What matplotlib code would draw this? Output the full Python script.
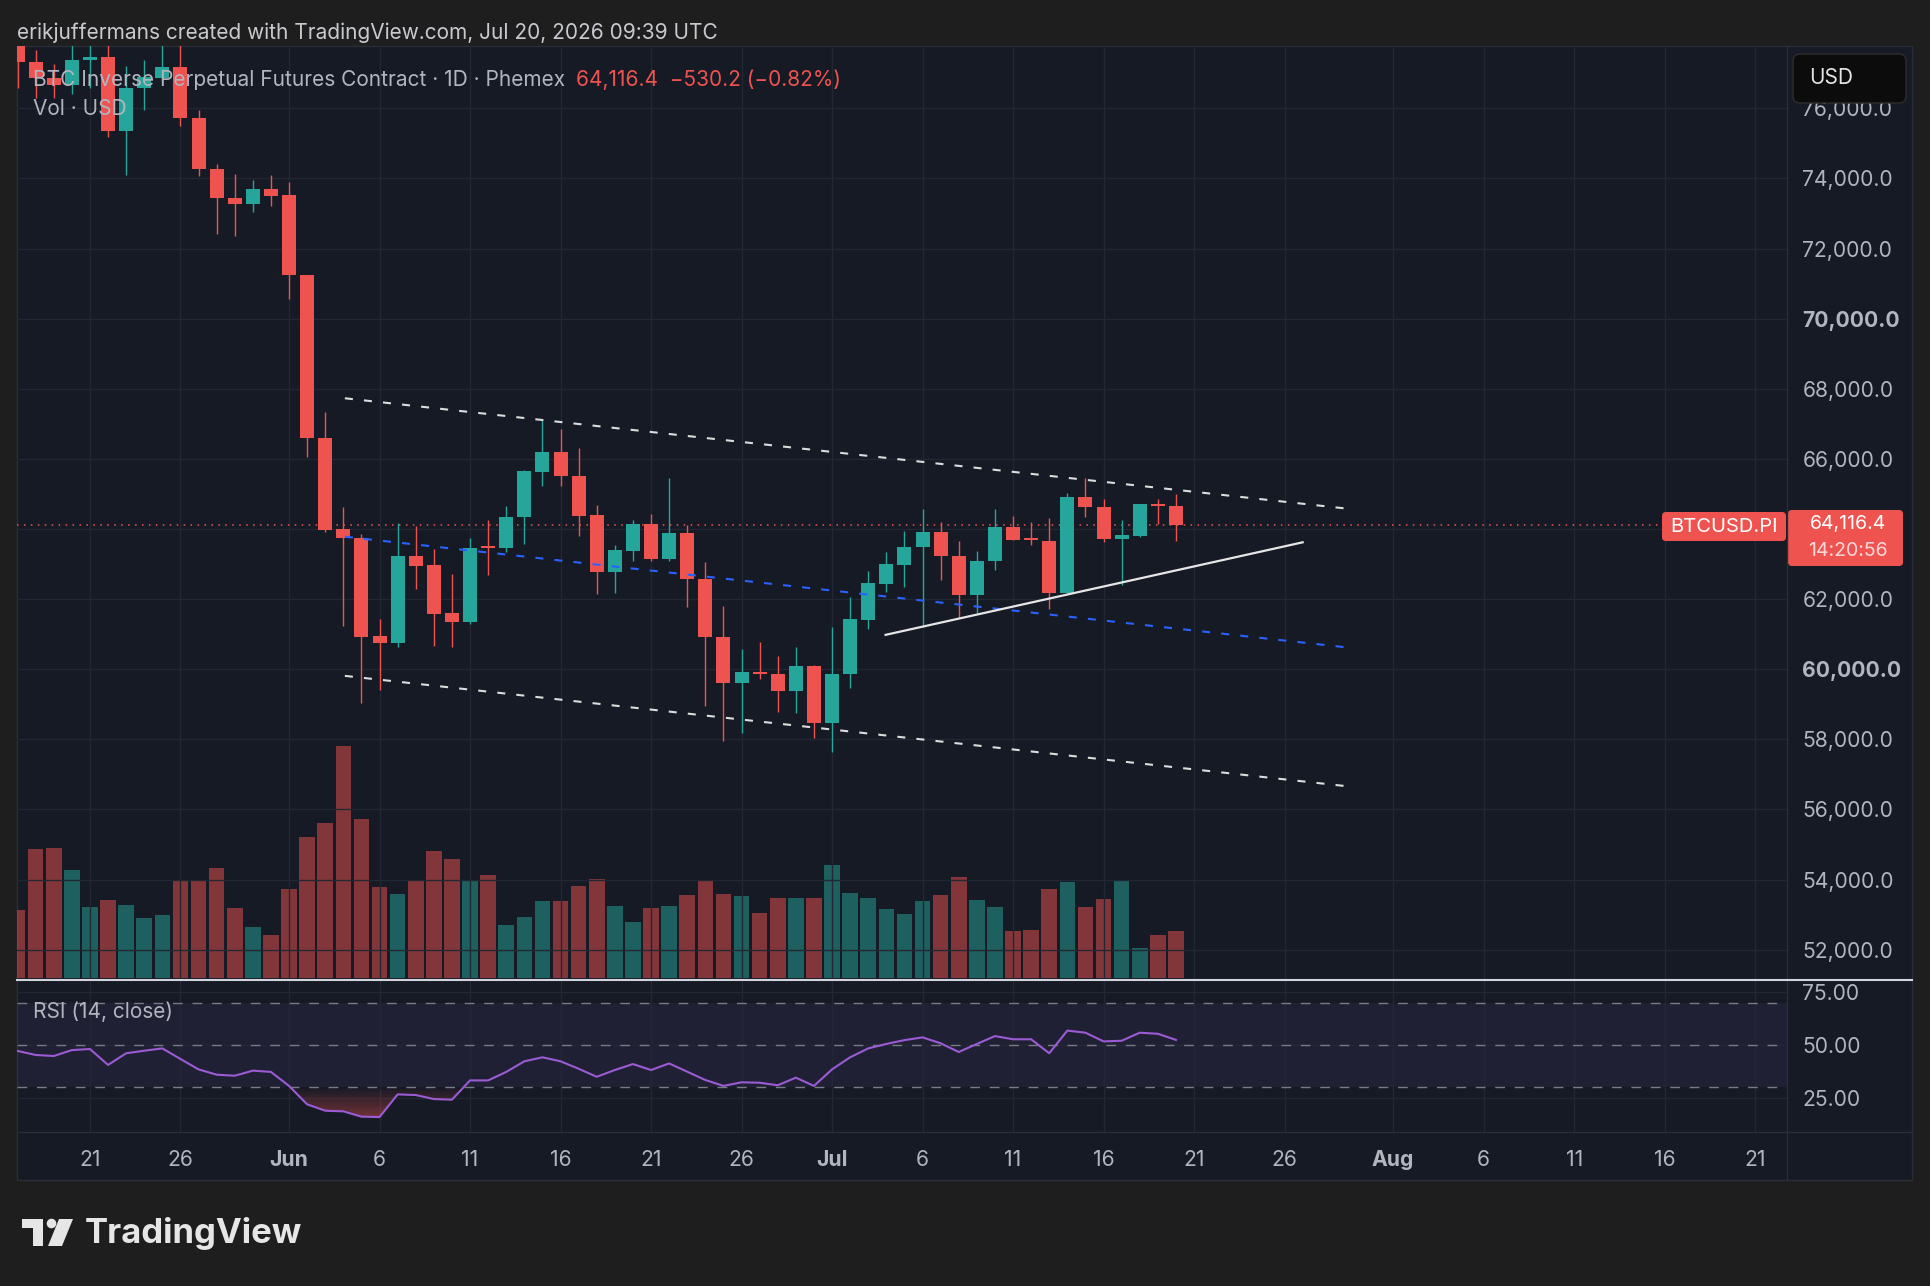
import numpy as np
import pandas as pd
import matplotlib
matplotlib.use("Agg")
import matplotlib.pyplot as plt
import matplotlib.dates as mdates
from matplotlib.patches import Rectangle, FancyBboxPatch, Circle, Polygon
from matplotlib.colors import to_rgb

plt.rcParams['font.family'] = ['Inter', 'DejaVu Sans']
plt.rcParams['lines.scale_dashes'] = False

# ---- data (daily bars, May 17 .. Jul 20) ----
dates = pd.date_range("2026-05-17", "2026-07-20", freq="D")
opens = [78200, 77330, 76860, 76680, 77380, 77470, 75360, 76570, 76870, 77190,
         75730, 74260, 73450, 73280, 73690, 73520, 71260, 66600, 64000, 63750,
         60950, 60760, 63230, 62970, 61600, 61360, 63500, 63450, 64340, 65640,
         66210, 65520, 64400, 62780, 63380, 64140, 63140, 63880, 62570, 60910,
         59600, 59930, 59860, 59390, 60090, 58460, 59860, 61400, 62430, 62980,
         63500, 63920, 63240, 62130, 63100, 64050, 63730, 63670, 62180, 64900,
         64620, 63710, 63800, 64710, 64650]
highs = [78500, 77670, 77260, 78100, 78300, 78000, 77210, 77380, 78200, 78000,
         75950, 74410, 74130, 73970, 74100, 73900, 71260, 67350, 64630, 63860,
         61420, 64160, 64090, 63420, 62730, 63750, 64260, 64660, 65680, 67130,
         66840, 66320, 64680, 63530, 64260, 64430, 65450, 64120, 63070, 61800,
         60570, 60770, 60380, 60640, 60120, 61210, 62050, 62810, 63330, 63930,
         64570, 64190, 63660, 63370, 64570, 64370, 64190, 64310, 65040, 65450,
         64860, 64260, 64720, 64860, 64990]
lows = [76570, 76300, 76300, 76400, 76580, 75180, 74100, 75940, 76750, 75510,
        74070, 72420, 72360, 73030, 73220, 70560, 66040, 63920, 61230, 59030,
        59410, 60640, 62300, 60670, 60620, 61300, 62690, 63340, 63570, 65230,
        65230, 63810, 62140, 62180, 63090, 63100, 63100, 61770, 58950, 57960,
        58170, 59710, 58780, 58760, 58030, 57630, 59460, 61140, 62210, 62340,
        61210, 62550, 61450, 61600, 62830, 63690, 63540, 61710, 62180, 64350,
        63640, 62400, 63780, 64140, 63670]
closes = [77330, 76860, 76670, 77380, 77460, 75360, 76570, 76900, 77190, 75730,
          74260, 73450, 73280, 73690, 73500, 71260, 66590, 63970, 63730, 60930,
          60760, 63230, 62950, 61580, 61360, 63470, 63450, 64350, 65660, 66210,
          65510, 64380, 62780, 63400, 64140, 63140, 63880, 62570, 60910, 59600,
          59930, 59860, 59390, 60090, 58460, 59860, 61420, 62450, 62990, 63500,
          63920, 63240, 62130, 63100, 64050, 63690, 63690, 62180, 64900, 64620,
          63710, 63830, 64710, 64646.6, 64116.4]
volume = [67.7, 129.3, 130.3, 108.3, 70.7, 78.3, 73.3, 60.0, 62.7, 96.7,
          96.7, 110.0, 69.7, 51.3, 43.3, 89.0, 140.7, 155.3, 232.0, 159.3,
          90.7, 83.7, 96.7, 126.7, 118.7, 98.3, 103.0, 53.0, 61.0, 77.3,
          76.7, 91.7, 99.3, 72.3, 55.7, 70.3, 72.3, 82.7, 96.7, 83.7,
          82.0, 65.3, 80.0, 80.0, 80.0, 113.3, 85.3, 80.0, 68.7, 64.3,
          77.3, 82.7, 101.3, 78.3, 71.3, 47.0, 48.3, 89.0, 96.0, 71.3,
          79.3, 96.7, 30.3, 43.3, 47.0]
rsi = [47.2, 45.3, 44.8, 47.6, 48.1, 40.6, 46.1, 47.3, 48.4, 43.4,
       38.5, 36.0, 35.5, 37.9, 37.3, 30.7, 22.0, 19.0, 18.7, 16.2,
       16.0, 26.7, 26.4, 24.5, 24.2, 33.3, 33.3, 37.3, 42.3, 44.2,
       42.3, 38.8, 35.0, 38.2, 41.0, 38.2, 41.3, 37.4, 33.5, 30.7,
       32.4, 32.2, 31.0, 34.6, 30.7, 38.5, 44.2, 48.4, 50.5, 52.3,
       53.6, 50.8, 46.7, 50.5, 54.2, 52.7, 52.7, 46.1, 56.8, 55.8,
       51.7, 52.0, 55.8, 55.3, 52.4]
last_price = 64116.4
change = -530.2

tick_dates = ["2026-05-21", "2026-05-26", "2026-06-01", "2026-06-06", "2026-06-11",
              "2026-06-16", "2026-06-21", "2026-06-26", "2026-07-01", "2026-07-06",
              "2026-07-11", "2026-07-16", "2026-07-21", "2026-07-26", "2026-08-01",
              "2026-08-06", "2026-08-11", "2026-08-16", "2026-08-21"]
tick_labels = ["21", "26", "Jun", "6", "11", "16", "21", "26", "Jul", "6",
               "11", "16", "21", "26", "Aug", "6", "11", "16", "21"]
price_ticks = list(range(52000, 78000, 2000))
hidden_price_tick = 64000   # covered by the last-price label
rsi_ticks = [25, 50, 75]

# drawn trend lines: (time, price) anchors
upper_line = [("2026-06-04 02:00", 67730), ("2026-07-29 15:30", 64570)]
mid_line = [("2026-06-04 02:00", 63780), ("2026-07-29 15:30", 60610)]
lower_line = [("2026-06-04 02:00", 59810), ("2026-07-29 15:30", 56650)]
support_line = [("2026-07-03 23:00", 60980), ("2026-07-27 00:00", 63620)]

# ---- colours ----
OUTER = '#1e1e1e'
PANE = '#161a25'
GRID = '#232733'
BORDER = '#2a2e39'
UP = '#26a69a'
DOWN = '#ef5350'
TXT = '#b2b5be'
FS_TXT = 15
FS_AX = 15.2

W, H = 1930, 1286
fig = plt.figure(figsize=(W / 100, H / 100), dpi=100, facecolor=OUTER)


def fbox(x0, y0, x1, y1):
    return [x0 / W, 1 - y1 / H, (x1 - x0) / W, (y1 - y0) / H]


bg = fig.add_axes([0, 0, 1, 1], zorder=-1)
bg.set_xlim(0, W)
bg.set_ylim(H, 0)
bg.axis('off')
bg.add_patch(Rectangle((17, 46), 1895, 1134, facecolor=PANE, edgecolor=BORDER, lw=1))

x = mdates.date2num(dates)
o = np.array(opens, float)
h = np.array(highs, float)
l = np.array(lows, float)
c = np.array(closes, float)
col = np.where(c >= o, UP, DOWN)
x_left = mdates.date2num(pd.Timestamp("2026-05-21")) - 4.03
x_right = mdates.date2num(pd.Timestamp("2026-05-21")) + 93.76
tick_x = mdates.date2num(pd.to_datetime(tick_dates))

# ---- main pane ----
ax = fig.add_axes(fbox(17, 46, 1787, 980), zorder=2)
ax.set_facecolor('none')
axv = ax.twinx()
axv.set_zorder(1)
axv.bar(x, volume, width=0.86, color=col, alpha=0.5, linewidth=0)
axv.set_ylim(-2, 932)
axv.axis('off')

ax.vlines(x, l, h, colors=col, lw=1.0, zorder=3)
ax.bar(x, np.maximum(np.abs(c - o), 60), bottom=np.minimum(o, c), width=0.77,
       color=col, linewidth=0, zorder=4)


def draw_line(pts, **kw):
    xs = mdates.date2num(pd.to_datetime([p[0] for p in pts]))
    ax.plot(xs, [p[1] for p in pts], **kw)


draw_line(upper_line, color='#dcdcdc', lw=1.5, ls=(0, (5.8, 8.0)), zorder=5)
draw_line(lower_line, color='#dcdcdc', lw=1.5, ls=(0, (5.8, 8.0)), zorder=5)
draw_line(mid_line, color='#2962ff', lw=1.5, ls=(0, (5.8, 8.0)), zorder=5)
draw_line(support_line, color='#e6e6e6', lw=1.6, zorder=5)
ax.axhline(last_price, color=DOWN, lw=1.1, ls=(0, (1.1, 3.9)), zorder=2.5)

ax.set_xlim(x_left, x_right)
ax.set_ylim(51133, 77780)
ax.set_xticks(tick_x)
ax.tick_params(axis='x', length=0, labelbottom=False)
ax.yaxis.tick_right()
ax.set_yticks(price_ticks)
ax.set_yticklabels(["" if v == hidden_price_tick else f"{v:,.1f}" for v in price_ticks])
for lbl, v in zip(ax.get_yticklabels(), price_ticks):
    if v % 10000 == 0:
        lbl.set_fontweight('bold')
ax.tick_params(axis='y', length=0, pad=11, labelsize=FS_AX, labelcolor=TXT)
ax.grid(True, color=GRID, lw=1)
for s in ax.spines.values():
    s.set_visible(False)

# ---- RSI pane ----
ar = fig.add_axes(fbox(17, 980, 1787, 1132), zorder=2, sharex=ax)
ar.set_facecolor('none')
ar.axhspan(30, 70, color='#7e57c2', alpha=0.1, lw=0, zorder=1)
for lv in (70, 50, 30):
    ar.axhline(lv, color='#787b86', lw=1, ls=(0, (7, 7)), zorder=2)
r = np.array(rsi)
poly = ar.fill_between(x, r, 30, where=r < 30, interpolate=True,
                       facecolor='none', edgecolor='none')
grad = np.zeros((256, 1, 4))
grad[..., :3] = to_rgb(DOWN)
grad[..., 3] = np.linspace(0.9, 0.0, 256)[:, None]
im = ar.imshow(grad, extent=[x[0], x[-1], 0, 30], origin='lower', aspect='auto', zorder=2)
im.set_clip_path(poly.get_paths()[0], ar.transData)
ar.plot(x, r, color='#9b5bd4', lw=1.5, zorder=3)

ar.set_xlim(x_left, x_right)
ar.set_ylim(8.96, 80.66)
ar.yaxis.tick_right()
ar.set_yticks(rsi_ticks)
ar.set_yticklabels([f"{v:.2f}" for v in rsi_ticks])
ar.set_xticks(tick_x)
ar.set_xticklabels(tick_labels)
for lbl, t in zip(ar.get_xticklabels(), tick_labels):
    if not t.isdigit():
        lbl.set_fontweight('bold')
ar.tick_params(axis='both', length=0, labelsize=FS_AX, labelcolor=TXT)
ar.tick_params(axis='x', pad=13)
ar.tick_params(axis='y', pad=11)
ar.grid(True, color=GRID, lw=1)
for s in ar.spines.values():
    s.set_visible(False)

# ---- overlay: separators, labels, boxes, logo ----
ov = fig.add_axes([0, 0, 1, 1], zorder=10)
ov.set_xlim(0, W)
ov.set_ylim(H, 0)
ov.axis('off')
ov.patch.set_visible(False)
ov.plot([1787, 1787], [46, 1180], color=BORDER, lw=1)
ov.plot([17, 1912], [1132, 1132], color=BORDER, lw=1)
ov.plot([17, 1912], [980, 980], color='#d1d4dc', lw=1.5)

ov.text(17, 33, "erikjuffermans created with TradingView.com, Jul 20, 2026 09:39 UTC",
        color='#c8cad0', fontsize=FS_TXT, va='center')
ov.text(33, 80, "BTC Inverse Perpetual Futures Contract \u00b7 1D \u00b7 Phemex",
        color=TXT, fontsize=FS_TXT, va='center')
pct = change / (last_price - change) * 100
ov.text(576, 80, f"{last_price:,.1f}  {change:,.1f} ({pct:.2f}%)".replace('-', '\u2212'),
        color=DOWN, fontsize=FS_TXT, va='center')
ov.text(33, 109, "Vol \u00b7 USD", color=TXT, fontsize=FS_TXT, va='center')
ov.text(33, 1012, "RSI (14, close)", color=TXT, fontsize=FS_TXT, va='center')

ov.add_patch(FancyBboxPatch((1793, 54), 113, 49, boxstyle='round,pad=0,rounding_size=7',
                            fc='#0c0c0c', ec='#2e2e2e', lw=1))
ov.text(1809, 78, "USD", color='#e6e6e6', fontsize=FS_TXT, va='center')

ov.add_patch(FancyBboxPatch((1662, 512), 124, 29, boxstyle='round,pad=0,rounding_size=4',
                            fc=DOWN, ec='none'))
ov.text(1724, 526.5, "BTCUSD.PI", color='white', fontsize=14.5, ha='center', va='center')
ov.add_patch(FancyBboxPatch((1788, 510), 115, 56, boxstyle='round,pad=0,rounding_size=4',
                            fc=DOWN, ec='none'))
ov.text(1848, 524, f"{last_price:,.1f}", color='white', fontsize=14, ha='center', va='center')
ov.text(1848, 551, "14:20:56", color='#ffd9d9', fontsize=14, ha='center', va='center')

LOGO = '#e6e6e6'
ov.add_patch(Rectangle((22, 1219), 21, 9, fc=LOGO, ec='none'))
ov.add_patch(Rectangle((33, 1219), 10, 27, fc=LOGO, ec='none'))
ov.add_patch(Circle((51.5, 1223.5), 4.8, fc=LOGO, ec='none'))
ov.add_patch(Polygon([(59, 1219), (73, 1219), (62, 1246), (48, 1246)], fc=LOGO, ec='none'))
ov.text(85, 1233, "TradingView", color=LOGO, fontsize=25, fontweight='bold', va='center')

fig.savefig("out.png", dpi=100, facecolor=OUTER)
